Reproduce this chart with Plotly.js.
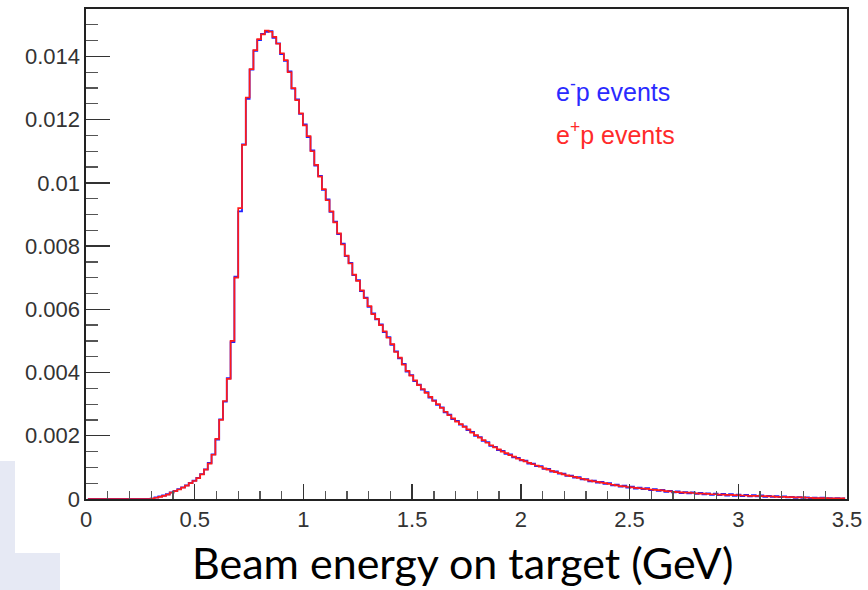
<!DOCTYPE html>
<html><head><meta charset="utf-8">
<script src="https://cdn.plot.ly/plotly-3.0.1.min.js"></script>
<style>html,body{margin:0;padding:0;background:#fff}#chart{width:868px;height:590px}</style>
</head><body><div id="chart"></div>
<script>
// Histogram binning: 200 bins from 0 to 3.5 GeV
const binLow = 0;
const binWidth = 0.0175;

// e+p events (red)
const ePlusP = [
 0,0,0,0,0,0,0,0,0,0,
 0,0,0,0,0,0,0,0.00001,0.00004,0.00007,
 0.0001,0.00014,0.0002,0.00025,0.0003,0.00036,0.00042,0.0005,0.00057,0.00066,
 0.00078,0.00093,0.00112,0.0014,0.0019,0.0025,0.0031,0.0038,0.005,0.007,
 0.0092,0.0112,0.0127,0.0136,0.0142,0.01455,0.0147,0.01482,0.01478,0.01462,
 0.0144,0.0141,0.01388,0.0135,0.013,0.01262,0.0122,0.01182,0.01148,0.011,
 0.01057,0.0102,0.0098,0.00945,0.0091,0.00875,0.0084,0.00805,0.0077,0.00745,
 0.0071,0.0069,0.0066,0.00635,0.0061,0.00585,0.0057,0.0055,0.0053,0.0051,
 0.0049,0.00465,0.00447,0.00425,0.00405,0.0039,0.00375,0.0036,0.00348,0.00336,
 0.00323,0.0031,0.003,0.00288,0.00276,0.00265,0.00255,0.00245,0.00237,0.00228,
 0.0022,0.0021,0.00202,0.00194,0.00186,0.00178,0.0017,0.00163,0.00157,0.0015,
 0.00145,0.00139,0.00134,0.00128,0.00124,0.00119,0.00114,0.0011,0.00106,0.00102,
 0.00097,0.00093,0.00089,0.00085,0.00082,0.00078,0.00075,0.00072,0.0007,0.00067,
 0.00064,0.00061,0.00058,0.00056,0.00054,0.00052,0.0005,0.00048,0.00045,0.00043,
 0.00041,0.0004,0.00038,0.00037,0.00035,0.00034,0.00033,0.00032,0.0003,0.00029,
 0.00028,0.00027,0.00025,0.00024,0.00023,0.00022,0.00021,0.0002,0.0002,0.00019,
 0.00018,0.00017,0.00017,0.00016,0.00015,0.00015,0.00014,0.00014,0.00013,0.00013,
 0.00012,0.00012,0.00011,0.00011,0.0001,0.0001,0.0001,0.00009,0.00009,0.00008,
 0.00008,0.00007,0.00007,0.00007,0.00006,0.00006,0.00005,0.00005,0.00005,0.00004,
 0.00004,0.00003,0.00003,0.00003,0.00003,0.00002,0.00002,0.00002,0.00002,0.00002
];

// e-p events (blue)
const eMinusP = [
 0,0,0,0,0,0,0,0,0,0,
 0,0,0,0,0,0,0,0.00001,0.00005,0.00008,
 0.00011,0.00015,0.00021,0.00026,0.00031,0.00037,0.00043,0.00051,0.00058,0.00067,
 0.00079,0.00094,0.00114,0.00141,0.00188,0.00252,0.00308,0.00382,0.00496,0.00703,
 0.0091,0.01122,0.01266,0.01358,0.01418,0.01452,0.01471,0.01478,0.0148,0.01459,
 0.01441,0.01407,0.01386,0.01353,0.01298,0.01264,0.01218,0.01185,0.01145,0.01103,
 0.01055,0.01022,0.00978,0.00948,0.00908,0.00877,0.00838,0.00808,0.00768,0.00747,
 0.00708,0.00692,0.00658,0.00637,0.00608,0.00587,0.00568,0.00552,0.00528,0.00512,
 0.00488,0.00467,0.00445,0.00427,0.00403,0.00392,0.00373,0.00362,0.00346,0.00338,
 0.00321,0.00312,0.00298,0.0029,0.00274,0.00267,0.00253,0.00247,0.00235,0.0023,
 0.00218,0.00212,0.002,0.00196,0.00184,0.0018,0.00168,0.00165,0.00155,0.00152,
 0.00143,0.00141,0.00132,0.0013,0.00122,0.00121,0.00112,0.00112,0.00104,0.00104,
 0.00095,0.00095,0.00087,0.00087,0.0008,0.0008,0.00073,0.00074,0.00068,0.00069,
 0.00062,0.00063,0.00056,0.00058,0.00052,0.00054,0.00048,0.0005,0.00043,0.00045,
 0.00039,0.00042,0.00036,0.00039,0.00033,0.00036,0.00031,0.00034,0.00028,0.00031,
 0.00026,0.00029,0.00023,0.00026,0.00021,0.00024,0.00019,0.00022,0.00018,0.00021,
 0.00016,0.00019,0.00015,0.00018,0.00013,0.00017,0.00012,0.00016,0.00011,0.00015,
 0.0001,0.00014,0.00009,0.00013,0.00008,0.00012,0.00008,0.00011,0.00007,0.0001,
 0.00007,0.00009,0.00006,0.00008,0.00005,0.00007,0.00004,0.00006,0.00004,0.00005,
 0.00003,0.00004,0.00002,0.00004,0.00002,0.00003,0.00001,0.00003,0.00001,0.00002
];

const xTickVals = [0, 0.5, 1, 1.5, 2, 2.5, 3, 3.5];
const xTickText = ['0', '0.5', '1', '1.5', '2', '2.5', '3', '3.5'];
const yTickVals = [0, 0.002, 0.004, 0.006, 0.008, 0.01, 0.012, 0.014];
const yTickText = ['0', '0.002', '0.004', '0.006', '0.008', '0.01', '0.012', '0.014'];
const xTitle = 'Beam energy on target (GeV)';
const legendMinus = 'e<sup>-</sup>p events';
const legendPlus = 'e<sup>+</sup>p events';

const centers = ePlusP.map((_, i) => binLow + binWidth * (i + 0.5));

const tickFont = {family: 'Liberation Sans, Arial, sans-serif', size: 22, color: '#333'};

const traces = [
  {x: centers, y: eMinusP, type: 'scatter', mode: 'lines', line: {shape: 'hvh', color: '#2020ff', width: 1.8}, hoverinfo: 'skip'},
  {x: centers, y: ePlusP, type: 'scatter', mode: 'lines', line: {shape: 'hvh', color: '#ff1a1a', width: 1.7}, hoverinfo: 'skip'}
];

const layout = {
  width: 868, height: 590,
  margin: {l: 86, r: 21, t: 9, b: 91},
  paper_bgcolor: '#fff', plot_bgcolor: '#fff',
  showlegend: false,
  xaxis: {
    range: [0, 3.5], tickvals: xTickVals, ticktext: xTickText,
    ticks: 'inside', ticklen: 15, tickwidth: 1.3, tickcolor: '#333',
    showline: true, linecolor: '#222', linewidth: 1.6, mirror: true,
    showgrid: false, zeroline: false, tickfont: tickFont,
    minor: {dtick: 0.1, tick0: 0, ticks: 'inside', ticklen: 8, tickwidth: 1.3, tickcolor: '#555', showgrid: false}
  },
  yaxis: {
    range: [0, 0.0155], tickvals: yTickVals, ticktext: yTickText,
    ticks: 'inside', ticklen: 24, tickwidth: 1.3, tickcolor: '#333',
    showline: true, linecolor: '#222', linewidth: 1.6, mirror: true,
    showgrid: false, zeroline: false, tickfont: tickFont,
    minor: {dtick: 0.0005, tick0: 0, ticks: 'inside', ticklen: 12, tickwidth: 1.3, tickcolor: '#555', showgrid: false}
  },
  annotations: [
    {text: legendMinus, xref: 'paper', yref: 'paper', x: (554 - 86) / 761, y: (499 - 90) / 490,
     xanchor: 'left', yanchor: 'middle', showarrow: false,
     font: {family: 'Liberation Sans, Arial, sans-serif', size: 25, color: '#2a2aff'}},
    {text: legendPlus, xref: 'paper', yref: 'paper', x: (554 - 86) / 761, y: (499 - 133) / 490,
     xanchor: 'left', yanchor: 'middle', showarrow: false,
     font: {family: 'Liberation Sans, Arial, sans-serif', size: 25, color: '#ff2a2a'}},
    {text: xTitle, xref: 'paper', yref: 'paper', x: (462 - 86) / 761, y: 0,
     xanchor: 'center', yanchor: 'middle', yshift: -63, showarrow: false,
     font: {family: 'Lato, Open Sans, sans-serif', size: 43, color: '#000'}}
  ],
  shapes: [
    {type: 'rect', xref: 'paper', yref: 'paper', x0: -0.12, x1: (15 - 86) / 761, y0: -0.2, y1: (499 - 461) / 490,
     fillcolor: '#e6e9f4', line: {width: 0}, layer: 'below'},
    {type: 'rect', xref: 'paper', yref: 'paper', x0: -0.12, x1: (60 - 86) / 761, y0: -0.2, y1: (499 - 553) / 490,
     fillcolor: '#e6e9f4', line: {width: 0}, layer: 'below'}
  ]
};

Plotly.newPlot('chart', traces, layout, {staticPlot: true, displayModeBar: false});
</script>
</body></html>
